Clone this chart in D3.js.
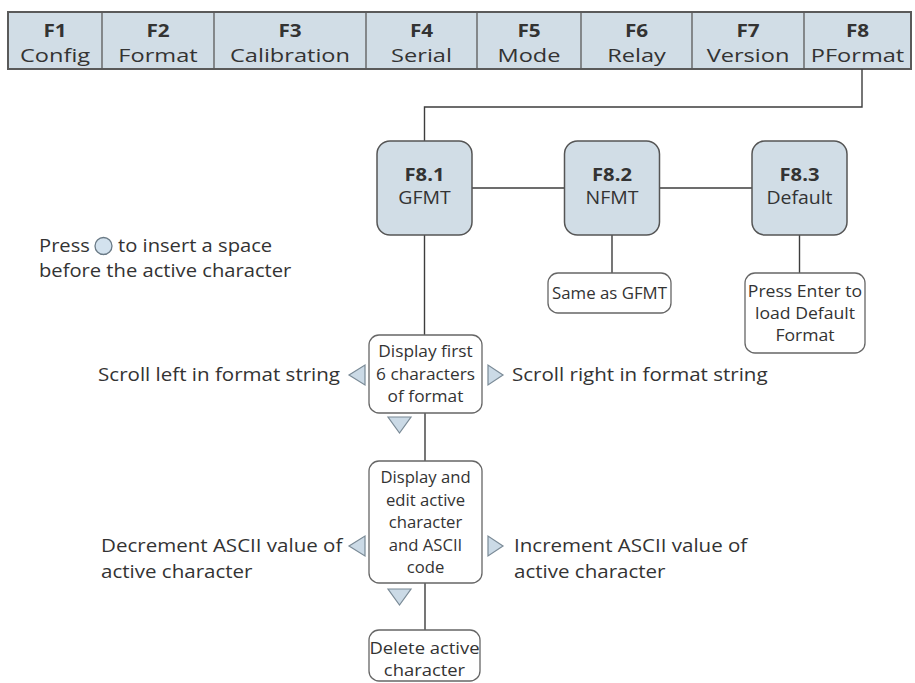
<!DOCTYPE html>
<html><head><meta charset="utf-8">
<script src="https://cdn.jsdelivr.net/npm/d3@7"></script>
<style>
html,body{margin:0;padding:0;background:#fff;}
svg{display:block;}
text{font-family:"Open Sans","DejaVu Sans",sans-serif;fill:#333;}
</style></head>
<body>
<script>
// ---- content ----
const menuKeys  = ["F1","F2","F3","F4","F5","F6","F7","F8"];
const menuNames = ["Config","Format","Calibration","Serial","Mode","Relay","Version","PFormat"];
const subKeys   = ["F8.1","F8.2","F8.3"];
const subNames  = ["GFMT","NFMT","Default"];
const subNotes  = [null, ["Same as GFMT"], ["Press Enter to","load Default","Format"]];
const steps     = [["Display first","6 characters","of format"],
                   ["Display and","edit active","character","and ASCII","code"],
                   ["Delete active","character"]];
const leftActs  = [["Scroll left in format string"],["Decrement ASCII value of","active character"]];
const rightActs = [["Scroll right in format string"],["Increment ASCII value of","active character"]];
const noteLine1 = ["Press","to insert a space"];
const noteLine2 = "before the active character";

// ---- layout ----
const W = 915, H = 683;
const menuEdges = [8,102,214,366,477,581,692,804,911];
const barTop = 12, barBot = 69;
const nodeX = d3.scalePoint().domain(subKeys).range([424.5, 799.5]);
const nodeW = 95, nodeTop = 141, nodeBot = 235;
const stepBoxes = [{x0:369,x1:482,y0:335,y1:413},{x0:369,x1:482,y0:461,y1:583},{x0:369,x1:480,y0:630,y1:681}];
const noteBoxes = [null,{x0:548,x1:671,y0:273,y1:313},{x0:745,x1:865,y0:273,y1:353}];

const FILL = "#d1dde6", STROKE = "#555", LINE = "#3d3d3d";

const svg = d3.select("body").append("svg").attr("width",W).attr("height",H);

function stretch(sel,k){
  sel.each(function(){
    const w=this.getComputedTextLength();
    d3.select(this).attr("textLength",w*k).attr("lengthAdjust","spacingAndGlyphs");
  });
}

// ---- menu bar ----
const mx = i => (menuEdges[i]+menuEdges[i+1])/2;
svg.append("rect").attr("x",menuEdges[0]).attr("y",barTop)
   .attr("width",menuEdges[8]-menuEdges[0]).attr("height",barBot-barTop)
   .attr("fill",FILL).attr("stroke","#5a5a5a").attr("stroke-width",2);
svg.selectAll("line.div").data(menuEdges.slice(1,-1)).join("line")
   .attr("x1",d=>d).attr("x2",d=>d).attr("y1",barTop).attr("y2",barBot)
   .attr("stroke","#5a5a5a").attr("stroke-width",1.3);
const mk = svg.selectAll("text.mkey").data(menuKeys).join("text")
   .attr("x",(d,i)=>mx(i)).attr("y",37).attr("text-anchor","middle")
   .style("font-size","18px").style("font-weight","700").text(d=>d);
stretch(mk,1.15);
const mn = svg.selectAll("text.mname").data(menuNames).join("text")
   .attr("x",(d,i)=>mx(i)).attr("y",62).attr("text-anchor","middle")
   .style("font-size","19px").text(d=>d);
stretch(mn,1.24);

// ---- connector from F8 ----
const cx8 = 862, yMid = 107;
svg.append("path")
   .attr("d",`M${cx8},${barBot}V${yMid}H${nodeX("F8.1")}V${nodeTop}`)
   .attr("fill","none").attr("stroke",LINE).attr("stroke-width",1.4);

// links between nodes
const yLink = (nodeTop+nodeBot)/2;
for(let i=0;i<subKeys.length-1;i++){
  svg.append("line").attr("x1",nodeX(subKeys[i])+nodeW/2).attr("x2",nodeX(subKeys[i+1])-nodeW/2)
     .attr("y1",yLink).attr("y2",yLink).attr("stroke",LINE).attr("stroke-width",1.4);
}
// verticals down from nodes
subKeys.forEach((k,i)=>{
  const y2 = i===0 ? stepBoxes[0].y0 : noteBoxes[i].y0;
  svg.append("line").attr("x1",nodeX(k)).attr("x2",nodeX(k)).attr("y1",nodeBot).attr("y2",y2)
     .attr("stroke",LINE).attr("stroke-width",1.4);
});
// verticals between steps
for(let i=0;i<stepBoxes.length-1;i++){
  svg.append("line").attr("x1",425).attr("x2",425).attr("y1",stepBoxes[i].y1).attr("y2",stepBoxes[i+1].y0)
     .attr("stroke",LINE).attr("stroke-width",1.4);
}

// nodes
const ng = svg.selectAll("g.node").data(subKeys).join("g");
ng.append("rect").attr("x",d=>nodeX(d)-nodeW/2).attr("y",nodeTop)
  .attr("width",nodeW).attr("height",nodeBot-nodeTop).attr("rx",13)
  .attr("fill",FILL).attr("stroke",STROKE).attr("stroke-width",1.5);
const nk = ng.append("text").attr("x",d=>nodeX(d)).attr("y",181).attr("text-anchor","middle")
  .style("font-size","18px").style("font-weight","700").text(d=>d);
stretch(nk,1.12);
const nn = ng.append("text").attr("x",d=>nodeX(d)).attr("y",204).attr("text-anchor","middle")
  .style("font-size","18px").text((d,i)=>subNames[i]);
stretch(nn,1.08);

// white boxes with multi-line text
function box(b, lines, lh, firstBase, k){
  svg.append("rect").attr("x",b.x0).attr("y",b.y0).attr("width",b.x1-b.x0).attr("height",b.y1-b.y0)
     .attr("rx",10).attr("fill","#fff").attr("stroke","#666").attr("stroke-width",1.3);
  const t = svg.selectAll(null).data(lines).join("text")
     .attr("x",(b.x0+b.x1)/2).attr("y",(d,i)=>firstBase+i*lh).attr("text-anchor","middle")
     .style("font-size","16px").text(d=>d);
  stretch(t,k);
}
box(noteBoxes[1], subNotes[1], 22, 299, 1.05);
box(noteBoxes[2], subNotes[2], 22, 297, 1.1);
box(stepBoxes[0], steps[0], 22.5, 357, 1.08);
box(stepBoxes[1], steps[1], 22.5, 483, 1.04);
box(stepBoxes[2], steps[2], 21.5, 654, 1.15);

// triangles
const TRI_FILL = "#cbdae6", TRI_STROKE = "#7a8a96";
function tri(points){
  svg.append("path").attr("d","M"+points.map(p=>p.join(",")).join("L")+"Z")
     .attr("fill",TRI_FILL).attr("stroke",TRI_STROKE).attr("stroke-width",1.2);
}
[375,546].forEach(cy=>{
  tri([[349,cy],[365,cy-10],[365,cy+10]]);
  tri([[503,cy],[488,cy-10],[488,cy+10]]);
});
[417,589].forEach(y0=>{
  tri([[388,y0],[411,y0],[399.5,y0+16]]);
});

// side action labels
const sideSize = "19px";
const lt0 = svg.append("text").attr("x",340).attr("y",381).attr("text-anchor","end")
   .style("font-size",sideSize).text(leftActs[0][0]);
const rt0 = svg.append("text").attr("x",512).attr("y",381)
   .style("font-size",sideSize).text(rightActs[0][0]);
const lt1 = svg.selectAll(null).data(leftActs[1]).join("text").attr("x",101).attr("y",(d,i)=>552+i*26)
   .style("font-size",sideSize).text(d=>d);
const rt1 = svg.selectAll(null).data(rightActs[1]).join("text").attr("x",514).attr("y",(d,i)=>552+i*26)
   .style("font-size",sideSize).text(d=>d);
[lt0,rt0,lt1,rt1].forEach(s=>stretch(s,1.08));

// press note
const p1 = svg.append("text").attr("x",39).attr("y",252).style("font-size","18px").text(noteLine1[0]);
svg.append("circle").attr("cx",103.5).attr("cy",246).attr("r",8.5)
   .attr("fill","#d3e2ee").attr("stroke","#6a7a86").attr("stroke-width",1.3);
const p2 = svg.append("text").attr("x",118).attr("y",252).style("font-size","18px").text(noteLine1[1]);
const p3 = svg.append("text").attr("x",39).attr("y",277).style("font-size","18px").text(noteLine2);
[p1,p2,p3].forEach(s=>stretch(s,1.12));
</script>
</body></html>
